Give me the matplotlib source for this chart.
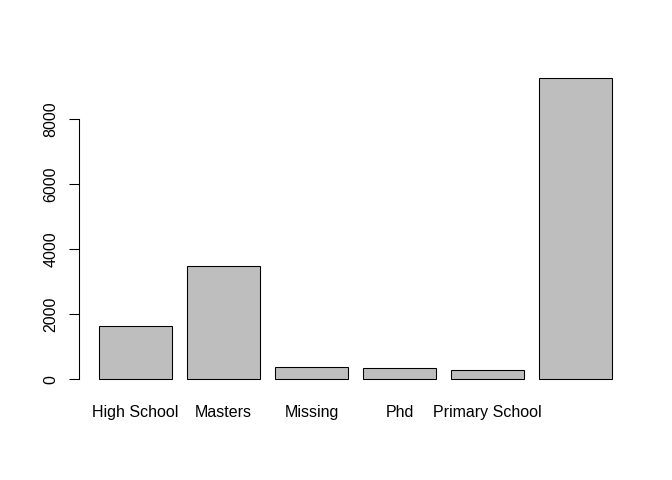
import matplotlib
matplotlib.use("Agg")
import matplotlib.pyplot as plt
import numpy as np

# counts per education level (last label is dropped in the original, it overlaps)
tick_labels = ["High School", "Masters", "Missing", "Phd", "Primary School", ""]
counts = [1631, 3477, 369, 338, 277, 9261]
y_ticks = [0, 2000, 4000, 6000, 8000]

plt.rcParams['font.family'] = ['Liberation Sans', 'DejaVu Sans']

fig = plt.figure(figsize=(7, 5), dpi=96)
ax = fig.add_axes([78.5 / 672, 88.7 / 480, 554 / 672, 325 / 480])

# R barplot layout: width 1, space 0.2
x = 0.2 + np.arange(len(counts)) * 1.2 + 0.5
ax.bar(x, counts, width=1.0, color='#BEBEBE', edgecolor='black', linewidth=0.8)

top = max(counts)
ax.set_xlim(-0.08, 7.48)
ax.set_ylim(-0.04 * top, 1.04 * top)

ax.spines['right'].set_visible(False)
ax.spines['top'].set_visible(False)
ax.spines['bottom'].set_visible(False)
ax.spines['left'].set_bounds(0, 8000)
ax.spines['left'].set_linewidth(0.8)

ax.set_yticks(y_ticks)
ax.set_yticklabels([str(v) for v in y_ticks], rotation=90, va='center')
ax.tick_params(axis='y', length=7.2, width=0.8, pad=8, labelsize=12)

ax.set_xticks(x)
ax.set_xticklabels(tick_labels)
ax.tick_params(axis='x', length=0, pad=10.5, labelsize=12)

fig.savefig("out.png", dpi=96)
